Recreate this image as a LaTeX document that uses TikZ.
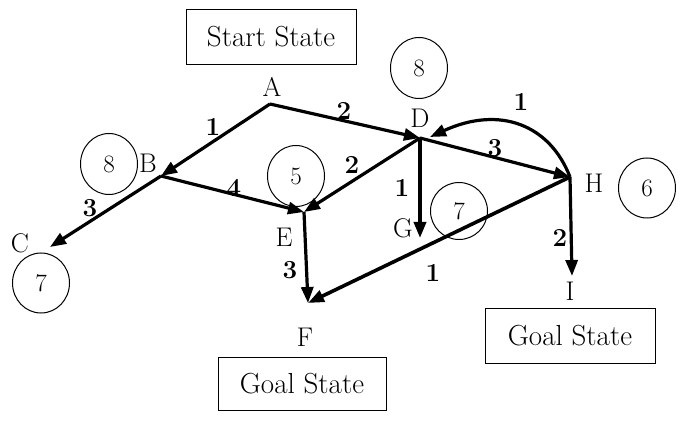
\documentclass[tikz,border=0pt]{standalone}
\usetikzlibrary{arrows.meta,shapes.geometric}
\begin{document}
\begin{tikzpicture}[x=1pt,y=-1pt,
  edge/.style={line width=3.2pt,-{Triangle[length=16pt,width=12pt]}},
  vlabel/.style={font=\fontsize{27}{30}\selectfont,inner sep=0pt},
  wlabel/.style={font=\fontsize{26}{30}\selectfont\bfseries,inner sep=0pt},
  hval/.style={draw,ellipse,line width=1pt,minimum width=57pt,minimum height=61pt,inner sep=0pt,font=\fontsize{25}{28}\selectfont},
  statebox/.style={draw,line width=1pt,minimum width=170pt,minimum height=55pt,inner sep=0pt,font=\fontsize{29}{32}\selectfont}]
\useasboundingbox (0,0) rectangle (681,425);
% vertices
\coordinate (A) at (270,104);
\coordinate (B) at (161,176);
\coordinate (C) at (50,247);
\coordinate (D) at (420,138);
\coordinate (E) at (304,212);
\coordinate (F) at (308,303);
\coordinate (G) at (420,238);
\coordinate (H) at (570,177);
\coordinate (I) at (572,276);
\coordinate (Dc) at (430,137);
% boxes
\node[statebox] (start) at (271,37) {Start State};
\node[statebox,minimum width=168pt,minimum height=53pt] (goalF) at (302,383.5) {Goal State};
\node[statebox] (goalI) at (570,336) {Goal State};
% heuristic circles
\node[hval] (hB) at (109,164) {8};
\node[hval,minimum height=60pt] (hC) at (41,283) {7};
\node[hval] (hD) at (419,68) {8};
\node[hval] (hE) at (296,176) {5};
\node[hval,minimum height=57pt] (hG) at (459,211) {7};
\node[hval,minimum height=60pt] (hH) at (647,188) {6};
% vertex labels
\node[vlabel] (lA) at (272,87) {A};
\node[vlabel] (lB) at (148,163) {B};
\node[vlabel] (lC) at (20,243) {C};
\node[vlabel] (lD) at (420,118) {D};
\node[vlabel] (lE) at (284,237) {E};
\node[vlabel] (lF) at (305,337) {F};
\node[vlabel] (lG) at (403,228) {G};
\node[vlabel] (lH) at (594,183) {H};
\node[vlabel] (lI) at (570,291) {I};
% edges
\draw[edge] (A) -- (B);
\draw[edge] (A) -- (D);
\draw[edge] (B) -- (C);
\draw[edge] (B) -- (E);
\draw[edge] (D) -- (E);
\draw[edge] (D) -- (H);
\draw[edge] (H) .. controls (550,125) and (500,105) .. (Dc);
\draw[edge,line width=3.6pt] (D) -- (G);
\draw[edge] (E) -- (F);
\draw[edge,line width=3.6pt] (H) -- (F);
\draw[edge] (H) -- (I);
% weights
\node[wlabel] (w1) at (213,127) {1};
\node[wlabel] (w2) at (344,111) {2};
\node[wlabel] (w3) at (90,208) {3};
\node[wlabel] (w4) at (234,188) {4};
\node[wlabel] (w5) at (352,165) {2};
\node[wlabel] (w6) at (495,148) {3};
\node[wlabel] (w7) at (521,102) {1};
\node[wlabel] (w8) at (402,188) {1};
\node[wlabel] (w9) at (290,270) {3};
\node[wlabel] (w10) at (433,273) {1};
\node[wlabel] (w11) at (560,238) {2};
\end{tikzpicture}
\end{document}
